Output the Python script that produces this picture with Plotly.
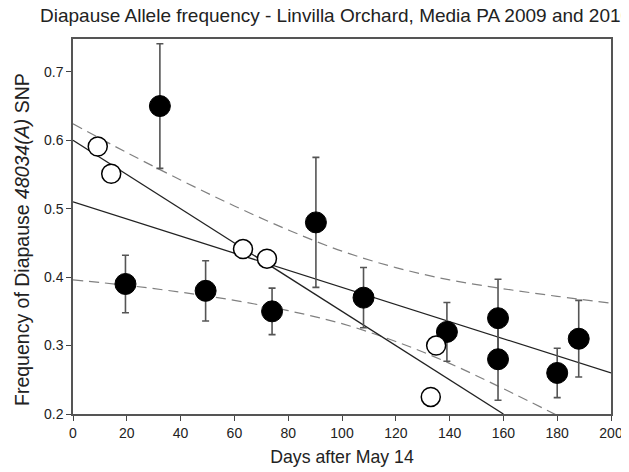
import plotly.graph_objects as go

# Filled circles (with error bars)
filled_x = [19.5, 32.3, 49.3, 74.0, 90.3, 108.0, 139.0, 158.0, 158.0, 180.0, 188.0]
filled_y = [0.390, 0.650, 0.380, 0.350, 0.480, 0.370, 0.320, 0.340, 0.280, 0.260, 0.310]
filled_err = [0.042, 0.091, 0.044, 0.034, 0.095, 0.044, 0.043, 0.057, 0.060, 0.036, 0.056]

# Open circles
open_x = [9.2, 14.2, 63.2, 72.1, 135.0, 133.0]
open_y = [0.591, 0.551, 0.441, 0.427, 0.300, 0.225]

# Regression lines (end points)
steep_x = [0, 160]
steep_y = [0.600, 0.200]
overall_x = [0, 200]
overall_y = [0.510, 0.260]

# Confidence bands
upper_x = [0, 20, 40, 60, 80, 100, 120, 140, 160, 180, 200]
upper_y = [0.624, 0.582, 0.542, 0.504, 0.469, 0.438, 0.414, 0.396, 0.383, 0.372, 0.362]
lower_x = [0, 20, 40, 60, 80, 100, 120, 140, 160, 180]
lower_y = [0.396, 0.388, 0.378, 0.366, 0.351, 0.332, 0.306, 0.274, 0.237, 0.198]

x_ticks = [0, 20, 40, 60, 80, 100, 120, 140, 160, 180, 200]
y_ticks = [0.2, 0.3, 0.4, 0.5, 0.6, 0.7]

FONT = "Liberation Sans, Arial, sans-serif"

# The page body has an 8px margin; figure is sized/offset to compensate.
OFF = 8
W, H = 629 - OFF, 472 - OFF
ML, MR, MT, MB = 73 - OFF, 18, 39 - OFF, 58
PW = W - ML - MR
PH = H - MT - MB

fig = go.Figure()

dash_style = dict(color="#808080", width=1.2, dash="10px,6px")
fig.add_trace(go.Scatter(x=upper_x, y=upper_y, mode="lines", line=dash_style, line_shape="spline", hoverinfo="skip"))
fig.add_trace(go.Scatter(x=lower_x, y=lower_y, mode="lines", line=dash_style, line_shape="spline", hoverinfo="skip"))
fig.add_trace(go.Scatter(x=steep_x, y=steep_y, mode="lines", line=dict(color="#222222", width=1.3)))
fig.add_trace(go.Scatter(x=overall_x, y=overall_y, mode="lines", line=dict(color="#222222", width=1.3)))

fig.add_trace(go.Scatter(
    x=filled_x, y=filled_y, mode="markers",
    marker=dict(size=21, color="black", line=dict(color="black", width=1)),
    error_y=dict(type="data", array=filled_err, visible=True, color="#555555", thickness=1.6, width=3.5),
))
fig.add_trace(go.Scatter(
    x=open_x, y=open_y, mode="markers",
    marker=dict(size=19, color="white", line=dict(color="black", width=1.5)),
))

axis_common = dict(
    showline=True, linecolor="#555555", linewidth=1.5, mirror=True,
    ticks="outside", ticklen=5, tickcolor="#444444", tickwidth=1,
    showgrid=False, zeroline=False, automargin=False,
    tickfont=dict(family=FONT, size=14, color="#222222"),
)

# y-axis title as annotation (centre at absolute x=22, y=240)
ylab_x = (22 - 73) / PW
ylab_y = (414 - 240) / PH
fig.add_annotation(
    text="Frequency of Diapause <i>48034(A)</i> SNP",
    xref="paper", yref="paper", x=ylab_x, y=ylab_y,
    xanchor="center", yanchor="middle", textangle=-90, showarrow=False,
    font=dict(family=FONT, size=19.5, color="#222222"),
)

fig.update_layout(
    width=W, height=H,
    margin=dict(l=ML, r=MR, t=MT, b=MB, autoexpand=False),
    paper_bgcolor="white", plot_bgcolor="white",
    showlegend=False,
    title=dict(
        text="Diapause Allele frequency - Linvilla Orchard, Media PA 2009 and 2010",
        x=(40 - OFF) / W, xanchor="left", xref="container",
        y=1 - (15 - OFF) / H, yanchor="middle", yref="container",
        pad=dict(l=0, r=0, t=0, b=0),
        font=dict(family=FONT, size=19, color="#222222"),
    ),
    xaxis=dict(
        range=[0, 200], tickvals=x_ticks,
        title=dict(text="Days after May 14", font=dict(family=FONT, size=17.7, color="#222222"), standoff=11),
        **axis_common,
    ),
    yaxis=dict(
        range=[0.2, 0.748], tickvals=y_ticks, tickformat=".1f",
        **axis_common,
    ),
)

fig.write_html("out.html")
